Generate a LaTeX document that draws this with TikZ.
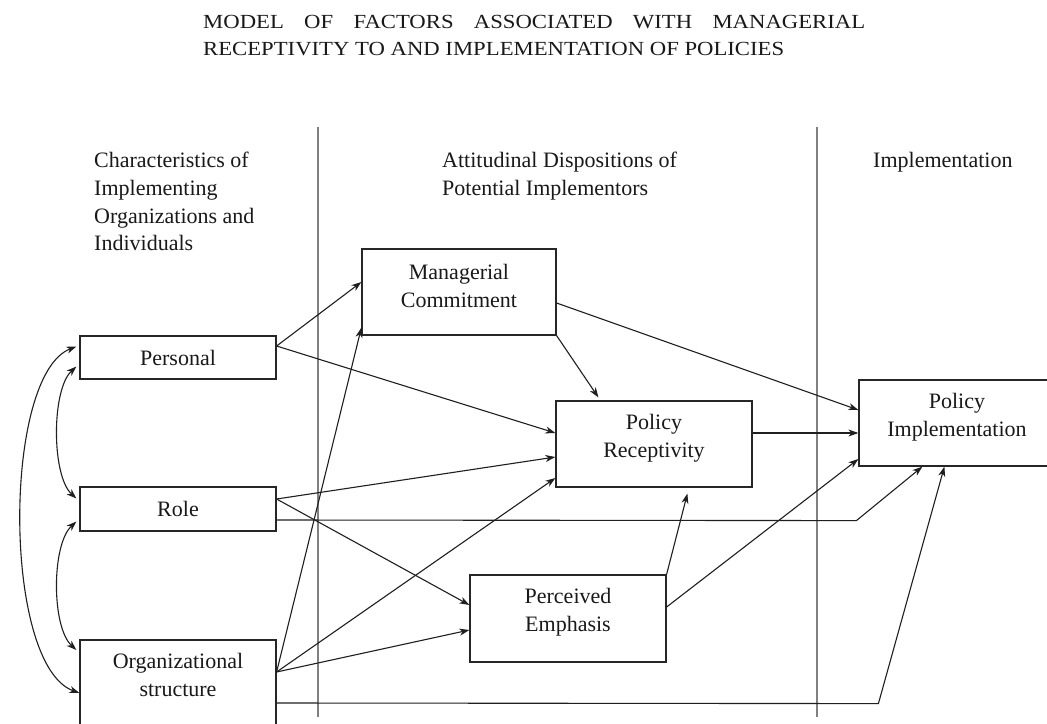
\documentclass[tikz,border=0pt]{standalone}
\usepackage{fontspec}
\setmainfont{Liberation Serif}
\newfontfamily\titlefont[FakeStretch=1.135]{Liberation Serif}
\usetikzlibrary{arrows.meta,calc}
\begin{document}
\begin{tikzpicture}[x=1pt,y=-1pt,
  every node/.style={inner sep=0pt, text=black!90},
  bodyfont/.style={font=\fontsize{22}{27.7}\selectfont},
  box/.style={draw=black!85, line width=1.2pt, minimum width=196pt, bodyfont, align=center},
  boxtext/.style={bodyfont, align=center, inner sep=0pt},
  header/.style={bodyfont, align=left, anchor=north west},
  titlestyle/.style={font=\titlefont\fontsize{20}{27}\selectfont, anchor=base west},
  link/.style={draw=black!88, line width=1.1pt, -{Stealth[length=10pt,width=7pt,inset=3pt]}},
  duo/.style={draw=black!88, line width=1.1pt, {Stealth[length=10pt,width=7pt,inset=3pt]}-{Stealth[length=10pt,width=7pt,inset=3pt]}},
  divider/.style={draw=black!50, line width=1.1pt}
]
\useasboundingbox (0,0) rectangle (1047,723);
\clip (0,0) rectangle (1047,723);
\fill[white] (0,0) rectangle (1047,723);

% title
\node[titlestyle] (title1) at (203,28) {\makebox[662pt][s]{MODEL OF FACTORS ASSOCIATED WITH MANAGERIAL}};
\node[titlestyle] (title2) at (203,55) {RECEPTIVITY TO AND IMPLEMENTATION OF POLICIES};

% dividers
\coordinate (d1t) at (318,127);
\coordinate (d1b) at (318,717);
\coordinate (d2t) at (817,127);
\coordinate (d2b) at (817,717);
\draw[divider] (d1t) -- (d1b);
\draw[divider] (d2t) -- (d2b);

% column headers
\node[header] (h1) at (94,152) {Characteristics of\\Implementing\\Organizations and\\Individuals};
\node[header] (h2) at (442,152) {Attitudinal Dispositions of\\Potential Implementors};
\node[header] (h3) at (873,152) {Implementation};

% boxes
\node[box, minimum height=43pt] (personal) at (178,357.5) {Personal};
\node[box, minimum height=44pt] (role) at (178,509) {Role};
\node[box, minimum height=86pt, label={[boxtext,yshift=8pt]center:{Organizational\\structure}}] (org) at (178,683) {};
\node[box, minimum width=194pt, minimum height=86pt, label={[boxtext,yshift=6pt]center:{Managerial\\Commitment}}] (mc) at (459,292) {};
\node[box, minimum height=86pt, label={[boxtext,yshift=6pt]center:{Policy\\Receptivity}}] (pr) at (654,444) {};
\node[box, minimum height=87pt, label={[boxtext,yshift=6pt]center:{Perceived\\Emphasis}}] (pe) at (568,618.5) {};
\node[box, minimum height=86pt, label={[boxtext,yshift=6pt]center:{Policy\\Implementation}}] (pi) at (957,423) {};

% connectors from Personal
\draw[link] ($(personal.east)+(0,-11.5)$) -- ($(mc.west)+(0,-10)$);
\draw[link] ($(personal.east)+(0,-11.5)$) -- ($(pr.west)+(0,-11)$);
% from Managerial Commitment
\draw[link] (mc.south east) -- ($(pr.north west)+(43,-3)$);
\draw[link] ($(mc.east)+(0,11)$) -- ($(pi.west)+(0,-13)$);
% from Policy Receptivity
\draw[link] ($(pr.east)+(0,-11)$) -- ($(pi.west)+(0,10)$);
% from Role
\draw[link] ($(role.east)+(0,-10)$) -- ($(pr.west)+(0,13)$);
\draw[link] ($(role.east)+(0,-10)$) -- ($(pe.west)+(0,-13.5)$);
\draw[link] ($(role.east)+(0,11)$) -- ($(pi.south west)+(-2,54)$) -- ($(pi.south west)+(64,0)$);
% from Perceived Emphasis
\draw[link] (pe.north east) -- ($(pr.south west)+(132,6)$);
\draw[link] ($(pe.east)+(0,-11.5)$) -- ($(pi.west)+(0,36)$);
% from Organizational structure
\draw[link] ($(org.east)+(0,-11)$) -- ($(mc.south west)+(0,-8)$);
\draw[link] ($(org.east)+(0,-11)$) -- ($(pr.west)+(0,34)$);
\draw[link] ($(org.east)+(0,-11)$) -- ($(pe.west)+(0,11.5)$);
\draw[link] ($(org.east)+(0,20)$) -- ($(pi.south west)+(20,237)$) -- ($(pi.south west)+(86,0)$);

% correlations on the left
\draw[duo] ($(personal.west)+(-3,-11)$) .. controls +(-74,28.5) and +(-77,-28) .. ($(org.west)+(0,10)$);
\draw[duo] ($(personal.west)+(-3,9)$) .. controls +(-25,23) and +(-25,-23) .. ($(role.west)+(-3,-10.5)$);
\draw[duo] ($(role.west)+(-3,12.5)$) .. controls +(-25,23) and +(-25,-23) .. ($(org.west)+(-3,-33)$);
\end{tikzpicture}
\end{document}
